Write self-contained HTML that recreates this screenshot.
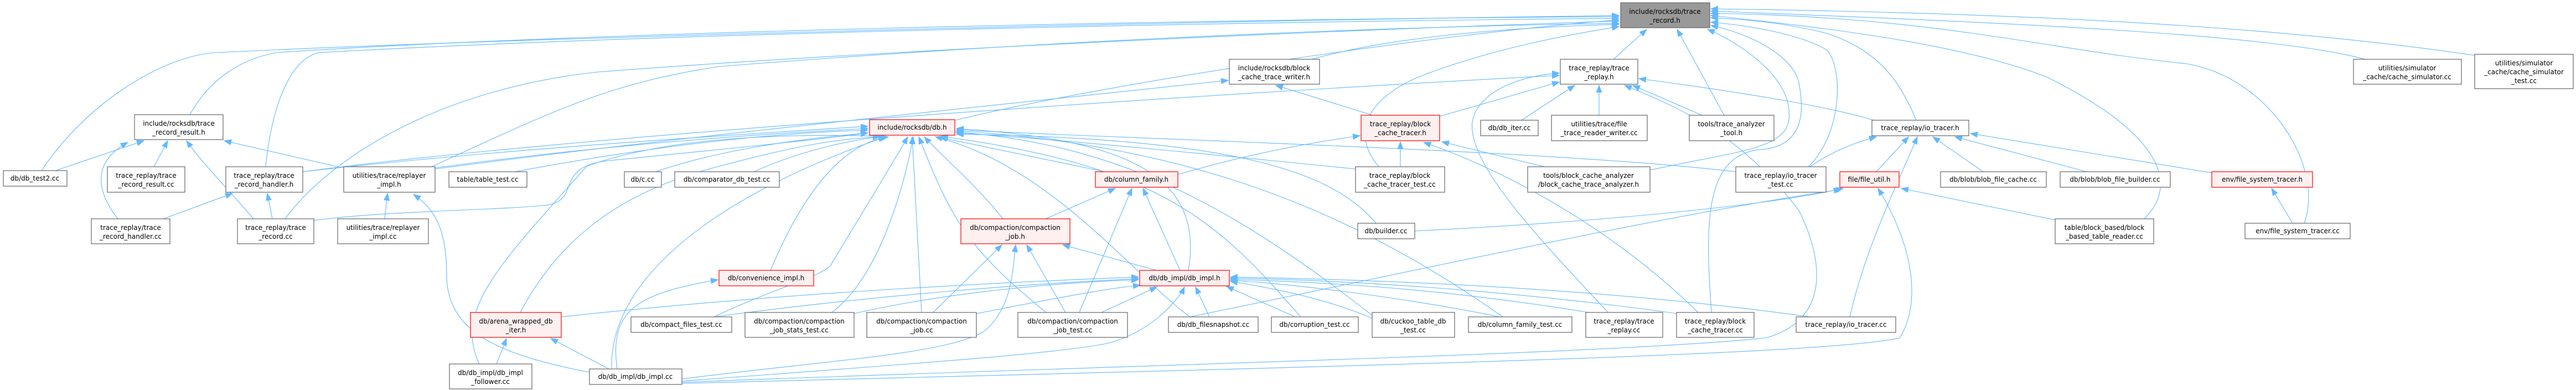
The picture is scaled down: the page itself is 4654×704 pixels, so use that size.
<!DOCTYPE html>
<html><head><meta charset="utf-8"><style>
html,body{margin:0;padding:0;background:#fff;width:4654px;height:704px;overflow:hidden}
svg{display:block}
text{font-family:"DejaVu Sans","Liberation Sans",sans-serif;font-size:12px;fill:#000;text-anchor:middle}
.e{fill:none;stroke:#63b8ff;stroke-width:1.1}
.n rect{fill:#fff;stroke:#666;stroke-width:1.2}
.r rect{fill:#fff0f0;stroke:#ff0000;stroke-width:1.2}
.g rect{fill:#999;stroke:#666;stroke-width:1.2}
</style></head><body>
<svg width="4654" height="704" viewBox="0 0 4654 704" xmlns="http://www.w3.org/2000/svg">
<defs><marker id="a" markerWidth="14" markerHeight="12" refX="13" refY="5" orient="auto" markerUnits="userSpaceOnUse"><path d="M0,0 L13,5 L0,10 z" fill="#63b8ff" stroke="#63b8ff"/></marker></defs>
<g class="e" marker-end="url(#a)">
<!-- to root -->
<path d="M75,308 C160,180 300,100 390,95 C900,70 2000,40 2925,28"/>
<path d="M343,207 C380,140 440,105 500,95 C1000,60 2100,35 2925,30"/>
<path d="M480,301 C490,200 520,110 575,95 C1200,60 2200,40 2925,33"/>
<path d="M515,395 C600,280 800,160 1080,130 C1600,90 2400,55 2925,38"/>
<path d="M780,301 C1000,200 1100,150 1300,120 C1800,80 2400,50 2925,42"/>
<path d="M2370,107 C2500,70 2700,50 2925,44"/>
<path d="M2491,301 C2440,240 2470,180 2560,140 C2700,85 2850,60 2925,48"/>
<path d="M1726,217 C2000,150 2600,60 2925,36"/>
<path d="M2915,107 L2975,53"/>
<path d="M3115,208 L3030,53"/>
<path d="M2981,307 C3150,270 3240,270 3232,200 C3230,140 3150,80 3085,53"/>
<path d="M3092,564 C3080,400 3080,280 3180,270 C3260,265 3260,200 3250,150 C3240,100 3160,60 3091,46"/>
<path d="M3267,301 C3330,240 3330,120 3300,90 C3250,60 3150,45 3091,40"/>
<path d="M3462,217 C3430,140 3390,90 3300,60 C3220,40 3150,35 3091,32"/>
<path d="M3874,395 C3940,330 3900,240 3700,140 C3550,80 3300,50 3091,28"/>
<path d="M4163,403 C4200,300 4100,140 3950,115 C3700,90 3500,30 3091,24"/>
<path d="M4273,107 C4100,60 3600,40 3091,20"/>
<path d="M4471,100 C4200,60 3800,25 3091,16"/>
<!-- to trace_replay.h -->
<path d="M2905,564 C2800,450 2650,300 2660,220 C2670,160 2760,135 2817,132"/>
<path d="M2601,210 L2817,148"/>
<path d="M2749,217 L2845,154"/>
<path d="M2889,208 L2889,154"/>
<path d="M3075,208 L2950,154"/>
<path d="M3385,217 C3300,190 3100,160 2961,142"/>
<path d="M1232,690 C2000,660 2900,640 3190,610 C3300,580 3300,480 3250,380 C3150,250 3050,200 2935,154"/>
<path d="M547,310 C1000,250 2000,180 2817,136"/>
<!-- to block_cache_trace_writer.h -->
<path d="M2480,208 L2305,154"/>
<path d="M786,305 C1200,250 1800,190 2219,145"/>
<!-- to block_cache_tracer.h -->
<path d="M2530,301 L2530,256"/>
<path d="M2790,301 L2605,256"/>
<path d="M3068,564 C2900,400 2700,300 2572,257"/>
<path d="M2128,315 C2250,280 2350,260 2457,245"/>
<!-- to db.h -->
<path d="M1185,310 C1300,270 1450,250 1568,240"/>
<path d="M1362,310 C1450,270 1550,250 1600,246"/>
<path d="M1392,488 C1450,350 1520,260 1605,247"/>
<path d="M1812,395 C1760,330 1700,280 1670,247"/>
<path d="M1996,310 L1698,248"/>
<path d="M2147,488 C2180,300 2000,250 1728,232"/>
<path d="M1290,572 C1400,520 1480,500 1500,480 C1560,380 1610,300 1640,247"/>
<path d="M1503,564 C1600,490 1640,300 1650,247"/>
<path d="M1665,564 L1648,247"/>
<path d="M1890,564 C1750,450 1720,400 1660,247"/>
<path d="M2150,572 C2050,500 1900,300 1690,247"/>
<path d="M2350,572 C2200,400 2100,300 1700,246"/>
<path d="M2480,570 C2200,350 2000,260 1727,238"/>
<path d="M2715,572 C2400,350 2100,260 1728,236"/>
<path d="M930,310 C1200,260 1400,240 1568,235"/>
<path d="M786,303 C1100,260 1400,240 1568,232"/>
<path d="M547,310 C900,270 1300,245 1568,228"/>
<path d="M940,564 C1000,450 1100,350 1300,300 C1450,260 1520,250 1590,247"/>
<path d="M866,657 C820,560 900,480 1060,300 C1200,250 1400,240 1590,246"/>
<path d="M1105,666 C1100,500 1300,350 1600,247"/>
<path d="M567,398 C700,380 900,380 990,370 C1050,360 1000,300 1100,290 C1300,270 1500,250 1568,240"/>
<path d="M2449,305 C2200,280 1900,250 1728,240"/>
<path d="M2486,403 C2400,300 2200,250 1728,242"/>
<path d="M3136,310 C2800,270 2000,250 1728,234"/>
<!-- to column_family.h -->
<path d="M1889,395 L2015,340"/>
<path d="M1950,564 L2045,340"/>
<path d="M2132,488 L2065,340"/>
<!-- to compaction_job.h -->
<path d="M1686,564 L1810,442"/>
<path d="M1925,564 L1855,442"/>
<path d="M2090,488 L1920,442"/>
<path d="M1232,684 C1500,650 1700,640 1775,600 C1830,560 1830,480 1835,442"/>
<!-- to db_impl.h -->
<path d="M1290,572 C1600,530 1900,510 2057,503"/>
<path d="M1543,566 C1700,530 1900,510 2057,505"/>
<path d="M1764,566 C1900,540 2000,520 2060,515"/>
<path d="M1990,564 L2090,518"/>
<path d="M2185,572 L2160,518"/>
<path d="M2340,572 L2216,517"/>
<path d="M2480,575 C2400,540 2300,520 2223,508"/>
<path d="M2710,572 C2500,530 2300,510 2223,506"/>
<path d="M2870,564 C2600,520 2400,510 2223,504"/>
<path d="M3030,566 C2700,520 2400,505 2223,502"/>
<path d="M3270,572 C2900,520 2500,505 2223,500"/>
<path d="M1232,688 C1600,660 1900,640 2000,620 C2080,600 2130,540 2140,518"/>
<path d="M1014,572 C1400,530 1800,510 2057,500"/>
<!-- convenience / arena -->
<path d="M1115,666 C1100,560 1150,530 1297,505"/>
<path d="M897,657 L915,611"/>
<path d="M1100,666 L995,611"/>
<!-- trace_record_result.h -->
<path d="M100,308 L260,254"/>
<path d="M278,301 L303,254"/>
<path d="M213,395 C170,340 170,290 231,257"/>
<path d="M458,395 C420,350 370,300 337,254"/>
<path d="M610,301 L405,254"/>
<!-- trh.h / rep.h -->
<path d="M295,395 L420,349"/>
<path d="M492,395 L483,349"/>
<path d="M695,395 L700,349"/>
<path d="M1065,672 C900,640 810,600 807,500 C807,420 790,380 747,351"/>
<!-- io_tracer.h -->
<path d="M3390,310 L3448,247"/>
<path d="M3583,310 L3492,247"/>
<path d="M3770,310 L3532,247"/>
<path d="M3996,312 L3560,241"/>
<path d="M3342,572 C3370,450 3420,350 3464,247"/>
<path d="M3270,301 C3300,280 3340,260 3390,247"/>
<!-- file_util.h -->
<path d="M3713,397 L3435,340"/>
<path d="M1232,692 C2500,660 3300,640 3432,610 C3470,550 3460,450 3393,340"/>
<path d="M2556,417 C2900,400 3200,370 3330,340"/>
<path d="M2150,572 C2600,480 3000,390 3326,342"/>
<!-- fst.h -->
<path d="M4142,403 L4104,340"/>
</g>
<g class="g"><rect x="2928" y="5" width="161" height="45"/><text x="3008" y="25">include/rocksdb/trace</text><text x="3008" y="41">_record.h</text></g>
<g class="n"><rect x="6" y="308" width="115" height="28"/><text x="63" y="326">db/db_test2.cc</text></g>
<g class="n"><rect x="243" y="207" width="160" height="45"/><text x="323" y="227">include/rocksdb/trace</text><text x="323" y="243">_record_result.h</text></g>
<g class="n"><rect x="194" y="301" width="140" height="46"/><text x="264" y="321">trace_replay/trace</text><text x="264" y="337">_record_result.cc</text></g>
<g class="n"><rect x="408" y="301" width="139" height="46"/><text x="477" y="321">trace_replay/trace</text><text x="477" y="337">_record_handler.h</text></g>
<g class="n"><rect x="621" y="301" width="165" height="46"/><text x="703" y="321">utilities/trace/replayer</text><text x="703" y="337">_impl.h</text></g>
<g class="n"><rect x="811" y="310" width="141" height="28"/><text x="881" y="328">table/table_test.cc</text></g>
<g class="n"><rect x="165" y="395" width="142" height="45"/><text x="236" y="415">trace_replay/trace</text><text x="236" y="431">_record_handler.cc</text></g>
<g class="n"><rect x="429" y="395" width="138" height="45"/><text x="498" y="415">trace_replay/trace</text><text x="498" y="431">_record.cc</text></g>
<g class="n"><rect x="610" y="395" width="164" height="45"/><text x="692" y="415">utilities/trace/replayer</text><text x="692" y="431">_impl.cc</text></g>
<g class="r"><rect x="850" y="564" width="164" height="45"/><text x="932" y="584">db/arena_wrapped_db</text><text x="932" y="600">_iter.h</text></g>
<g class="n"><rect x="812" y="657" width="149" height="45"/><text x="886" y="677">db/db_impl/db_impl</text><text x="886" y="693">_follower.cc</text></g>
<g class="n"><rect x="1065" y="666" width="167" height="28"/><text x="1148" y="684">db/db_impl/db_impl.cc</text></g>
<g class="r"><rect x="1571" y="216" width="154" height="28"/><text x="1648" y="234">include/rocksdb/db.h</text></g>
<g class="n"><rect x="1128" y="310" width="67" height="28"/><text x="1161" y="328">db/c.cc</text></g>
<g class="n"><rect x="1219" y="310" width="189" height="28"/><text x="1313" y="328">db/comparator_db_test.cc</text></g>
<g class="r"><rect x="1979" y="310" width="149" height="28"/><text x="2053" y="328">db/column_family.h</text></g>
<g class="r"><rect x="1736" y="395" width="197" height="45"/><text x="1834" y="415">db/compaction/compaction</text><text x="1834" y="431">_job.h</text></g>
<g class="r"><rect x="1299" y="488" width="171" height="28"/><text x="1384" y="506">db/convenience_impl.h</text></g>
<g class="r"><rect x="2059" y="488" width="162" height="28"/><text x="2140" y="506">db/db_impl/db_impl.h</text></g>
<g class="n"><rect x="1140" y="572" width="182" height="28"/><text x="1231" y="590">db/compact_files_test.cc</text></g>
<g class="n"><rect x="1346" y="564" width="197" height="45"/><text x="1444" y="584">db/compaction/compaction</text><text x="1444" y="600">_job_stats_test.cc</text></g>
<g class="n"><rect x="1566" y="564" width="198" height="45"/><text x="1665" y="584">db/compaction/compaction</text><text x="1665" y="600">_job.cc</text></g>
<g class="n"><rect x="1839" y="564" width="198" height="45"/><text x="1938" y="584">db/compaction/compaction</text><text x="1938" y="600">_job_test.cc</text></g>
<g class="n"><rect x="2111" y="572" width="162" height="28"/><text x="2192" y="590">db/db_filesnapshot.cc</text></g>
<g class="n"><rect x="2297" y="572" width="157" height="28"/><text x="2375" y="590">db/corruption_test.cc</text></g>
<g class="n"><rect x="2479" y="564" width="149" height="45"/><text x="2553" y="584">db/cuckoo_table_db</text><text x="2553" y="600">_test.cc</text></g>
<g class="n"><rect x="2653" y="572" width="187" height="28"/><text x="2746" y="590">db/column_family_test.cc</text></g>
<g class="n"><rect x="2865" y="564" width="139" height="45"/><text x="2934" y="584">trace_replay/trace</text><text x="2934" y="600">_replay.cc</text></g>
<g class="n"><rect x="3029" y="564" width="140" height="45"/><text x="3099" y="584">trace_replay/block</text><text x="3099" y="600">_cache_tracer.cc</text></g>
<g class="n"><rect x="3245" y="572" width="180" height="28"/><text x="3335" y="590">trace_replay/io_tracer.cc</text></g>
<g class="n"><rect x="2221" y="107" width="163" height="45"/><text x="2302" y="127">include/rocksdb/block</text><text x="2302" y="143">_cache_trace_writer.h</text></g>
<g class="n"><rect x="2819" y="107" width="140" height="45"/><text x="2889" y="127">trace_replay/trace</text><text x="2889" y="143">_replay.h</text></g>
<g class="r"><rect x="2459" y="208" width="142" height="46"/><text x="2530" y="228">trace_replay/block</text><text x="2530" y="244">_cache_tracer.h</text></g>
<g class="n"><rect x="2675" y="217" width="104" height="28"/><text x="2727" y="235">db/db_iter.cc</text></g>
<g class="n"><rect x="2803" y="208" width="173" height="46"/><text x="2889" y="228">utilities/trace/file</text><text x="2889" y="244">_trace_reader_writer.cc</text></g>
<g class="n"><rect x="3052" y="208" width="153" height="46"/><text x="3128" y="228">tools/trace_analyzer</text><text x="3128" y="244">_tool.h</text></g>
<g class="n"><rect x="2449" y="301" width="161" height="46"/><text x="2529" y="321">trace_replay/block</text><text x="2529" y="337">_cache_tracer_test.cc</text></g>
<g class="n"><rect x="2760" y="301" width="221" height="46"/><text x="2870" y="321">tools/block_cache_analyzer</text><text x="2870" y="337">/block_cache_trace_analyzer.h</text></g>
<g class="n"><rect x="3136" y="301" width="163" height="46"/><text x="3217" y="321">trace_replay/io_tracer</text><text x="3217" y="337">_test.cc</text></g>
<g class="n"><rect x="2453" y="403" width="103" height="28"/><text x="2504" y="421">db/builder.cc</text></g>
<g class="n"><rect x="3382" y="217" width="175" height="28"/><text x="3469" y="235">trace_replay/io_tracer.h</text></g>
<g class="r"><rect x="3324" y="310" width="107" height="28"/><text x="3377" y="328">file/file_util.h</text></g>
<g class="n"><rect x="3506" y="310" width="191" height="28"/><text x="3601" y="328">db/blob/blob_file_cache.cc</text></g>
<g class="n"><rect x="3722" y="310" width="199" height="28"/><text x="3821" y="328">db/blob/blob_file_builder.cc</text></g>
<g class="r"><rect x="3996" y="310" width="182" height="28"/><text x="4087" y="328">env/file_system_tracer.h</text></g>
<g class="n"><rect x="3713" y="395" width="178" height="45"/><text x="3802" y="415">table/block_based/block</text><text x="3802" y="431">_based_table_reader.cc</text></g>
<g class="n"><rect x="4056" y="403" width="190" height="28"/><text x="4151" y="421">env/file_system_tracer.cc</text></g>
<g class="n"><rect x="4252" y="107" width="195" height="45"/><text x="4349" y="127">utilities/simulator</text><text x="4349" y="143">_cache/cache_simulator.cc</text></g>
<g class="n"><rect x="4471" y="98" width="178" height="62"/><text x="4560" y="118">utilities/simulator</text><text x="4560" y="134">_cache/cache_simulator</text><text x="4560" y="150">_test.cc</text></g>
</svg>
</body></html>
